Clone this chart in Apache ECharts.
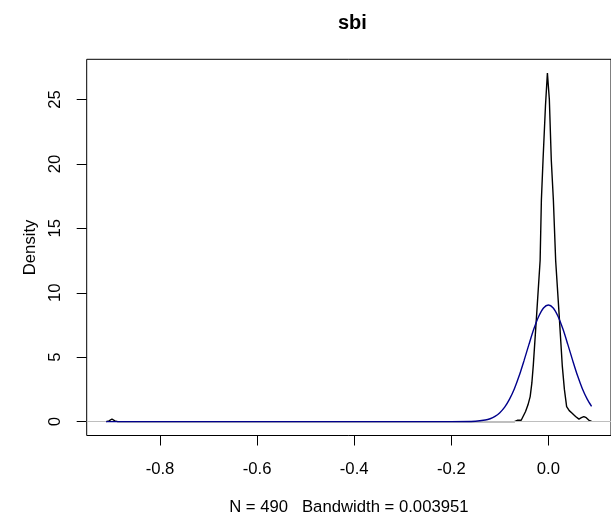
<!DOCTYPE html>
<html>
<head>
<meta charset="utf-8">
<script src="https://cdn.jsdelivr.net/npm/echarts@6/dist/echarts.min.js"></script>
<style>html,body{margin:0;padding:0;background:#fff}#c{width:611px;height:521px}</style>
</head>
<body>
<div id="c"></div>
<script>
// Kernel density estimate of sbi (black)
const densX = [-0.911,-0.905,-0.899,-0.893,-0.887,-0.07,-0.064,-0.060,-0.056,-0.052,-0.047,-0.042,-0.0375,-0.034,-0.031,-0.024,-0.017,-0.0144,-0.011,-0.006,-0.002,0.002,0.006,0.0103,0.015,0.022,0.0287,0.033,0.0376,0.043,0.049,0.056,0.063,0.068,0.073,0.078,0.083,0.089];
const densY = [0.0,0.06,0.2,0.06,0.0,0.0,0.1,0.19,0.1,0.15,0.78,1.3,1.94,3.0,4.4,8.4,12.5,17.2,20.3,24.5,27.05,25.0,20.3,17.2,12.5,8.4,4.3,2.5,1.16,0.85,0.65,0.4,0.19,0.3,0.39,0.3,0.12,0.02];
// Normal curve (dark blue)
const normX = [-0.911,-0.3,-0.2,-0.15,-0.13,-0.12,-0.11,-0.1,-0.09,-0.08,-0.07,-0.06,-0.05,-0.04,-0.03,-0.02,-0.01,0,0.01,0.02,0.03,0.04,0.05,0.06,0.07,0.08,0.089];
const normY = [0,0,0.0,0.028,0.12,0.22,0.40,0.69,1.12,1.74,2.55,3.57,4.75,5.99,7.18,8.16,8.82,9.05,8.82,8.16,7.18,5.99,4.75,3.57,2.55,1.74,1.18];
const xTicks = [-0.8,-0.6,-0.4,-0.2,0.0];
const yTicks = [0,5,10,15,20,25];
const titleText = 'sbi';
const xName = 'N = 490   Bandwidth = 0.003951';
const yName = 'Density';

const FONT = '"Liberation Sans", Arial, Helvetica, sans-serif';
const FS = 16.7;
const chart = echarts.init(document.getElementById('c'), null, {renderer:'canvas'});
chart.setOption({
  animation:false,
  backgroundColor:'#fff',
  title:{text:titleText,left:333,top:8,
    textStyle:{fontFamily:FONT,fontWeight:'bold',fontSize:20,color:'#000'}},
  grid:{left:86.7,top:59.3,width:527.3,height:376.7,show:true,borderColor:'#000',borderWidth:1,backgroundColor:'transparent'},
  xAxis:{type:'value',min:-0.951,max:0.129,
    name:xName,nameLocation:'middle',nameGap:72,
    nameTextStyle:{fontFamily:FONT,fontSize:FS,color:'#000',verticalAlign:'middle'},
    axisLine:{show:false,onZero:false},
    axisTick:{show:true,length:10,lineStyle:{color:'#000',width:1},customValues:xTicks},
    axisLabel:{show:true,margin:25,fontFamily:FONT,fontSize:FS,color:'#000',customValues:xTicks,
      formatter:v=>v.toFixed(1)},
    splitLine:{show:false}},
  yAxis:{type:'value',min:-1.08,max:28.12,
    name:yName,nameLocation:'middle',nameGap:54,nameRotate:90,
    nameTextStyle:{fontFamily:FONT,fontSize:FS,color:'#000',verticalAlign:'middle'},
    axisLine:{show:false,onZero:false},
    axisTick:{show:true,length:10,lineStyle:{color:'#000',width:1},customValues:yTicks},
    axisLabel:{show:true,rotate:90,margin:23,fontFamily:FONT,fontSize:FS,color:'#000',customValues:yTicks},
    splitLine:{show:false}},
  series:[
    {type:'line',data:densX.map((x,i)=>[x,densY[i]]),showSymbol:false,symbol:'none',
      lineStyle:{color:'#000',width:1.4},z:2,
      markLine:{silent:true,symbol:'none',label:{show:false},
        lineStyle:{color:'#bebebe',width:1,type:'solid'},data:[{yAxis:0}],z:3}},
    {type:'line',data:normX.map((x,i)=>[x,normY[i]]),showSymbol:false,symbol:'none',smooth:0.3,
      lineStyle:{color:'#00008b',width:1.4},z:4}
  ]
});
</script>
</body>
</html>
